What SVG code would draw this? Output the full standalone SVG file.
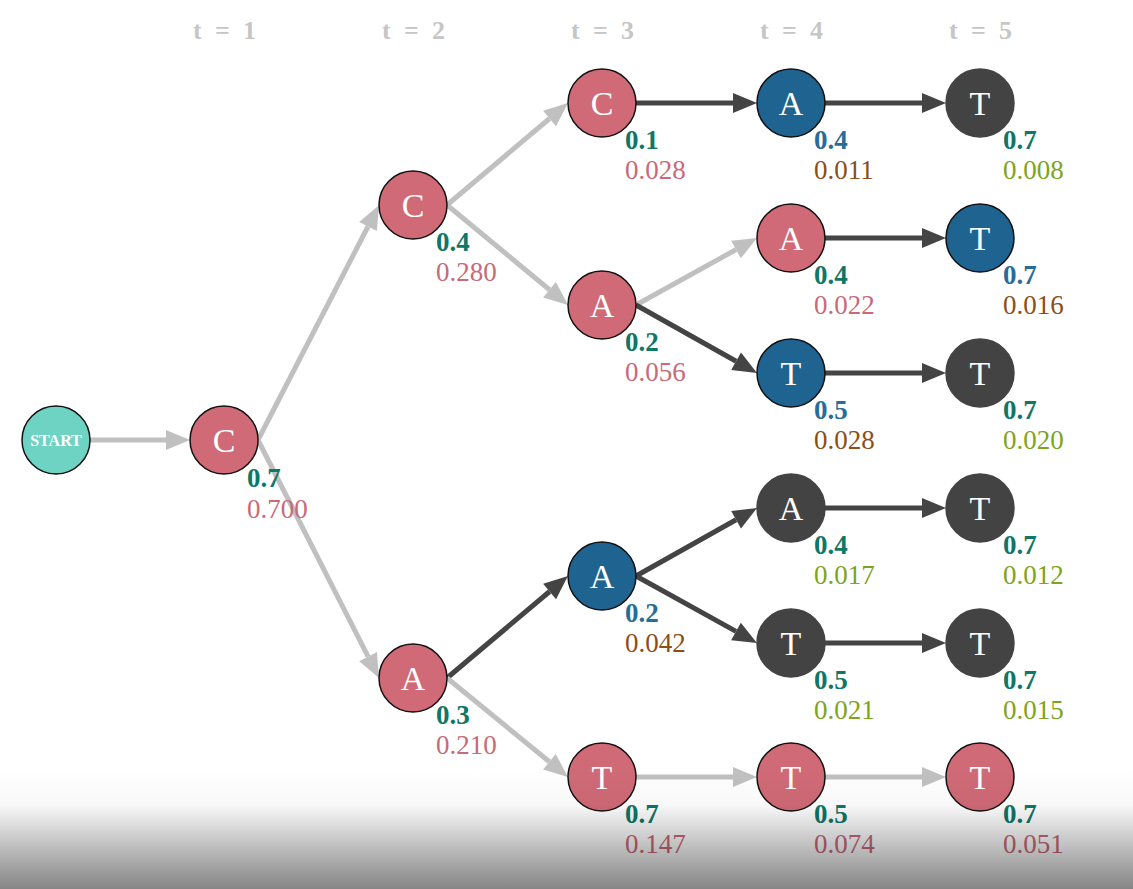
<svg xmlns="http://www.w3.org/2000/svg" width="1133" height="889" viewBox="0 0 1133 889">
<style>
.nd circle{stroke:#111;stroke-width:1.5}
.red{fill:#cf6a76}
.blue{fill:#1f6391}
.dark{fill:#434343;stroke:#434343 !important}
.teal{fill:#6fd3c3}
.lt{font-family:"Liberation Serif",serif;font-size:34px;fill:#fff;text-anchor:middle}
.st{font-family:"Liberation Serif",serif;font-size:16px;font-weight:bold;fill:#fff;text-anchor:middle}
.p{font-family:"Liberation Serif",serif;font-size:27px;font-weight:bold}
.q{font-family:"Liberation Serif",serif;font-size:27px}
.pg{fill:#0e7766}.pb{fill:#276d99}
.qr{fill:#c86a78}.qb{fill:#8a4f18}.qg{fill:#7ea41c}
.tl{font-family:"Liberation Serif",serif;font-size:26px;font-weight:bold;fill:#c6c6c6}
.eg{stroke:#c0c0c0;stroke-width:5;fill:none;marker-end:url(#ag)}
.ed{stroke:#444;stroke-width:5;fill:none;marker-end:url(#ad)}
</style>
<defs>
<marker id="ag" markerUnits="userSpaceOnUse" markerWidth="26" markerHeight="22" refX="0" refY="10" orient="auto" overflow="visible"><path d="M0,0 L24,10 L0,20 z" fill="#c0c0c0"/></marker>
<marker id="ad" markerUnits="userSpaceOnUse" markerWidth="26" markerHeight="22" refX="0" refY="10" orient="auto" overflow="visible"><path d="M0,0 L24,10 L0,20 z" fill="#444"/></marker>
<linearGradient id="shade" x1="0" y1="0" x2="0" y2="1">
<stop offset="0" stop-color="#000" stop-opacity="0"/>
<stop offset="0.3" stop-color="#000" stop-opacity="0.03"/>
<stop offset="1" stop-color="#000" stop-opacity="0.48"/>
</linearGradient>
</defs>
<rect width="1133" height="889" fill="#fff"/>
<g id="time-labels">
<text class="tl" x="193" y="39" textLength="63" lengthAdjust="spacing">t = 1</text>
<text class="tl" x="382" y="39" textLength="63" lengthAdjust="spacing">t = 2</text>
<text class="tl" x="571" y="39" textLength="63" lengthAdjust="spacing">t = 3</text>
<text class="tl" x="760" y="39" textLength="63" lengthAdjust="spacing">t = 4</text>
<text class="tl" x="949" y="39" textLength="63" lengthAdjust="spacing">t = 5</text>
</g>
<g id="connectors">
<line class="eg" x1="90" y1="440" x2="166" y2="440"/>
<line class="eg" x1="258" y1="440" x2="368" y2="226.5"/>
<line class="eg" x1="258" y1="440" x2="368.1" y2="656.6"/>
<line class="eg" x1="447" y1="205" x2="549.6" y2="118.5"/>
<line class="eg" x1="447" y1="205" x2="549.5" y2="289.7"/>
<line class="ed" x1="447" y1="678" x2="549.6" y2="591.5"/>
<line class="eg" x1="447" y1="678" x2="549.4" y2="761.8"/>
<line class="ed" x1="636" y1="103" x2="733" y2="103"/>
<line class="eg" x1="636" y1="305" x2="736" y2="249.6"/>
<line class="ed" x1="636" y1="305" x2="736.1" y2="361.2"/>
<line class="ed" x1="636" y1="576" x2="736.1" y2="519.8"/>
<line class="ed" x1="636" y1="576" x2="736" y2="631.4"/>
<line class="eg" x1="636" y1="777" x2="733" y2="777"/>
<line class="ed" x1="825" y1="103" x2="922" y2="103"/>
<line class="ed" x1="825" y1="238" x2="922" y2="238"/>
<line class="ed" x1="825" y1="373" x2="922" y2="373"/>
<line class="ed" x1="825" y1="508" x2="922" y2="508"/>
<line class="ed" x1="825" y1="643" x2="922" y2="643"/>
<line class="eg" x1="825" y1="777" x2="922" y2="777"/>
</g>
<g id="n-start" class="nd"><circle class="teal" cx="56" cy="440" r="34"/><text class="st" x="56" y="446">START</text></g>
<g id="n-c1" class="nd"><circle class="red" cx="224" cy="440" r="34"/><text class="lt" x="224" y="452">C</text><text class="p pg" x="247" y="487">0.7</text><text class="q qr" x="247" y="518">0.700</text></g>
<g id="n-c2" class="nd"><circle class="red" cx="413" cy="205" r="34"/><text class="lt" x="413" y="217">C</text><text class="p pg" x="436" y="251">0.4</text><text class="q qr" x="436" y="281">0.280</text></g>
<g id="n-a2" class="nd"><circle class="red" cx="413" cy="678" r="34"/><text class="lt" x="413" y="690">A</text><text class="p pg" x="436" y="724">0.3</text><text class="q qr" x="436" y="754">0.210</text></g>
<g id="n-c3" class="nd"><circle class="red" cx="602" cy="103" r="34"/><text class="lt" x="602" y="115">C</text><text class="p pg" x="625" y="149">0.1</text><text class="q qr" x="625" y="179">0.028</text></g>
<g id="n-a3" class="nd"><circle class="red" cx="602" cy="305" r="34"/><text class="lt" x="602" y="317">A</text><text class="p pg" x="625" y="351">0.2</text><text class="q qr" x="625" y="381">0.056</text></g>
<g id="n-a3b" class="nd"><circle class="blue" cx="602" cy="576" r="34"/><text class="lt" x="602" y="588">A</text><text class="p pb" x="625" y="622">0.2</text><text class="q qb" x="625" y="652">0.042</text></g>
<g id="n-t3" class="nd"><circle class="red" cx="602" cy="777" r="34"/><text class="lt" x="602" y="789">T</text><text class="p pg" x="625" y="823">0.7</text><text class="q qr" x="625" y="853">0.147</text></g>
<g id="n-a4a" class="nd"><circle class="blue" cx="791" cy="103" r="34"/><text class="lt" x="791" y="115">A</text><text class="p pb" x="814" y="149">0.4</text><text class="q qb" x="814" y="179">0.011</text></g>
<g id="n-a4b" class="nd"><circle class="red" cx="791" cy="238" r="34"/><text class="lt" x="791" y="250">A</text><text class="p pg" x="814" y="284">0.4</text><text class="q qr" x="814" y="314">0.022</text></g>
<g id="n-t4c" class="nd"><circle class="blue" cx="791" cy="373" r="34"/><text class="lt" x="791" y="385">T</text><text class="p pb" x="814" y="419">0.5</text><text class="q qb" x="814" y="449">0.028</text></g>
<g id="n-a4d" class="nd"><circle class="dark" cx="791" cy="508" r="34"/><text class="lt" x="791" y="520">A</text><text class="p pg" x="814" y="554">0.4</text><text class="q qg" x="814" y="584">0.017</text></g>
<g id="n-t4e" class="nd"><circle class="dark" cx="791" cy="643" r="34"/><text class="lt" x="791" y="655">T</text><text class="p pg" x="814" y="689">0.5</text><text class="q qg" x="814" y="719">0.021</text></g>
<g id="n-t4f" class="nd"><circle class="red" cx="791" cy="777" r="34"/><text class="lt" x="791" y="789">T</text><text class="p pg" x="814" y="823">0.5</text><text class="q qr" x="814" y="853">0.074</text></g>
<g id="n-t5a" class="nd"><circle class="dark" cx="980" cy="103" r="34"/><text class="lt" x="980" y="115">T</text><text class="p pg" x="1003" y="149">0.7</text><text class="q qg" x="1003" y="179">0.008</text></g>
<g id="n-t5b" class="nd"><circle class="blue" cx="980" cy="238" r="34"/><text class="lt" x="980" y="250">T</text><text class="p pb" x="1003" y="284">0.7</text><text class="q qb" x="1003" y="314">0.016</text></g>
<g id="n-t5c" class="nd"><circle class="dark" cx="980" cy="373" r="34"/><text class="lt" x="980" y="385">T</text><text class="p pg" x="1003" y="419">0.7</text><text class="q qg" x="1003" y="449">0.020</text></g>
<g id="n-t5d" class="nd"><circle class="dark" cx="980" cy="508" r="34"/><text class="lt" x="980" y="520">T</text><text class="p pg" x="1003" y="554">0.7</text><text class="q qg" x="1003" y="584">0.012</text></g>
<g id="n-t5e" class="nd"><circle class="dark" cx="980" cy="643" r="34"/><text class="lt" x="980" y="655">T</text><text class="p pg" x="1003" y="689">0.7</text><text class="q qg" x="1003" y="719">0.015</text></g>
<g id="n-t5f" class="nd"><circle class="red" cx="980" cy="777" r="34"/><text class="lt" x="980" y="789">T</text><text class="p pg" x="1003" y="823">0.7</text><text class="q qr" x="1003" y="853">0.051</text></g>
<rect x="0" y="770" width="1133" height="119" fill="url(#shade)"/>
</svg>
